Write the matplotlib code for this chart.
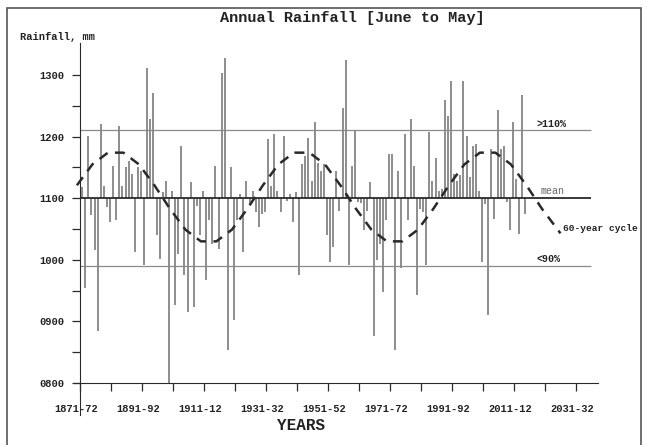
import matplotlib

matplotlib.use("Agg")
import matplotlib.pyplot as plt
import matplotlib.transforms as mtransforms
from matplotlib.patches import Rectangle

# Data
YEARS = list(range(1871, 2015))
RAINFALL = [
    1118, 954, 1201, 1073, 1016, 884, 1220, 1120, 1085, 1061,
    1153, 1064, 1218, 1120, 1150, 1160, 1140, 1013, 1150, 1145,
    991, 1311, 1228, 1271, 1040, 1002, 1110, 1128, 798, 1111,
    927, 1010, 1185, 975, 916, 1126, 924, 1088, 1040, 1111,
    967, 1064, 1026, 1153, 1018, 1303, 1327, 854, 1150, 903,
    1064, 1107, 1013, 1128, 1090, 1112, 1077, 1053, 1075, 1077,
    1196, 1120, 1204, 1112, 1077, 1201, 1095, 1107, 1061, 1110,
    976, 1155, 1169, 1198, 1128, 1223, 1158, 1145, 1155, 1040,
    997, 1021, 1145, 1080, 1247, 1325, 991, 1153, 1210, 1094,
    1092, 1048, 1080, 1126, 876, 999, 1026, 948, 1064, 1172,
    1172, 854, 1145, 986, 1204, 1064, 1228, 1153, 943, 1083,
    1077, 991, 1207, 1128, 1166, 1112, 1115, 1260, 1233, 1290,
    1139, 1128, 1137, 1290, 1201, 1134, 1185, 1188, 1112, 997,
    1090, 911, 1180, 1067, 1244, 1180, 1185, 1094, 1048, 1223,
    1131, 1042, 1268, 1075,
]

CYCLE_YEARS = [
    1870, 1875, 1880, 1885, 1890, 1895, 1900, 1905, 1910, 1915,
    1920, 1925, 1930, 1935, 1940, 1945, 1950, 1955, 1960, 1965,
    1970, 1975, 1980, 1985, 1990, 1995, 2000, 2005, 2010, 2015,
    2020, 2026,
]
CYCLE_VALUES = [
    1121, 1155, 1174, 1174, 1155, 1121, 1083, 1049, 1030, 1030,
    1049, 1083, 1121, 1155, 1174, 1174, 1155, 1121, 1083, 1049,
    1030, 1030, 1049, 1083, 1121, 1155, 1174, 1174, 1155, 1121,
    1083, 1043,
]

MEAN = 1100
HIGH = 1210
LOW = 990

XTICKS = [1871, 1891, 1911, 1931, 1951, 1971, 1991, 2011, 2031]
XTICK_LABELS = ["1871-72", "1891-92", "1911-12", "1931-32", "1951-52",
                "1971-72", "1991-92", "2011-12", "2031-32"]
YTICKS = [800, 900, 1000, 1100, 1200, 1300]
YTICK_LABELS = ["0800", "0900", "1000", "1100", "1200", "1300"]

FONT = "Liberation Mono"
DARK = "#2a2a2a"
BAR = "#858585"


def main():
    fig = plt.figure(figsize=(6.47, 4.45), dpi=100)
    ax = fig.add_axes([0.1141, 0.1393, 0.8097, 0.764])
    ax.set_xlim(1869, 2038)
    ax.set_ylim(800, 1352)

    # Spines
    for side in ["top", "right"]:
        ax.spines[side].set_visible(False)
    ax.spines["left"].set_position(("data", 1871))
    ax.spines["left"].set_bounds(748, 1352)
    ax.spines["left"].set_color(DARK)
    ax.spines["bottom"].set_color(DARK)

    # Reference lines
    ax.hlines(HIGH, 1871, 2036, color="#8a8a8a", lw=0.9, zorder=1)
    ax.hlines(LOW, 1871, 2036, color="#8a8a8a", lw=0.9, zorder=1)
    ax.hlines(MEAN, 1871, 2036, color=DARK, lw=1.3, zorder=3)

    # Bars (deviation from mean)
    xs = [y + 0.7 for y in YEARS]
    ax.vlines(xs, MEAN, RAINFALL, color=BAR, lw=1.3, zorder=2)

    # 60-year cycle
    ax.plot(CYCLE_YEARS, CYCLE_VALUES, color=DARK, lw=1.8,
            dashes=(4, 3), zorder=4, clip_on=False)

    # Ticks
    ax.set_xticks(XTICKS)
    ax.set_xticklabels(XTICK_LABELS)
    ax.set_xticks([x + 10 for x in XTICKS[:-1]], minor=True)
    ax.set_yticks(YTICKS)
    ax.set_yticklabels(YTICK_LABELS)
    ax.set_yticks([v + 50 for v in YTICKS[:-1]], minor=True)
    ax.tick_params(which="both", direction="out", length=6, width=0.9,
                   color=DARK)
    ax.tick_params(axis="x", pad=9)
    ax.tick_params(axis="y", pad=5)
    shift = mtransforms.ScaledTranslation(-4 / 100, 0, fig.dpi_scale_trans)
    for lab in ax.get_xticklabels():
        lab.set_transform(lab.get_transform() + shift)
    for lab in ax.get_xticklabels() + ax.get_yticklabels():
        lab.set_fontfamily(FONT)
        lab.set_fontweight("bold")
        lab.set_fontsize(7.5)
        lab.set_color("#222222")

    # Right-hand labels
    small = dict(fontfamily=FONT, fontweight="bold", fontsize=7.2,
                 color="#222222", va="bottom", ha="left")
    ax.text(2018.4, HIGH + 3, ">110%", **small)
    ax.text(2018.4, LOW + 3, "<90%", **small)
    ax.text(2019.4, MEAN + 4, "mean", fontfamily=FONT, fontsize=7.2,
            color="#666666", va="bottom", ha="left")
    ax.text(2026.8, 1051, "60-year cycle", fontfamily=FONT,
            fontweight="bold", fontsize=6.8, color="#222222",
            va="center", ha="left", clip_on=False)

    # Titles
    fig.text(352 / 647, 1 - 18 / 445, "Annual Rainfall [June to May]",
             fontfamily=FONT, fontweight="bold", fontsize=11,
             ha="center", va="center", color="#222222")
    fig.text(20 / 647, 1 - 37 / 445, "Rainfall, mm", fontfamily=FONT,
             fontweight="bold", fontsize=7.5, ha="left", va="center",
             color="#222222")
    fig.text(301 / 647, 1 - 425 / 445, "YEARS", fontfamily=FONT,
             fontweight="bold", fontsize=11.5, ha="center", va="center",
             color="#222222")

    # Frame around the picture
    fig.add_artist(Rectangle((7 / 647, -0.01), (641 - 7) / 647,
                             1 - 8 / 445 + 0.01, transform=fig.transFigure,
                             fill=False, ec="#555555", lw=1.2))

    fig.savefig("out.png", dpi=100, facecolor="white")
    plt.close(fig)


if __name__ == "__main__":
    main()
